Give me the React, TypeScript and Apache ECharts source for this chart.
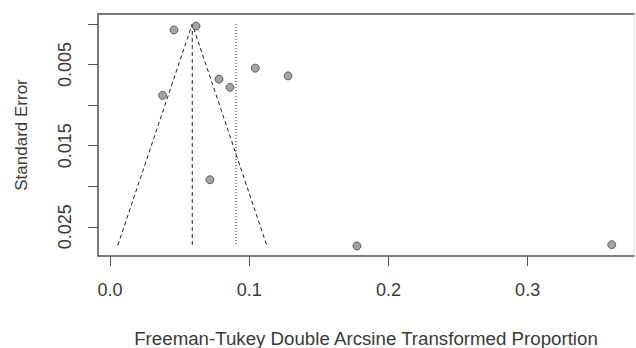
import React, { useEffect, useRef } from "react";
import * as echarts from "echarts";

// Study estimates (Freeman-Tukey transformed proportion) and their standard errors
const effectValues = [0.046, 0.0618, 0.0378, 0.0783, 0.0862, 0.1044, 0.1279, 0.0718, 0.1774, 0.3604];
const seValues = [0.00074, 0.00025, 0.0088, 0.0068, 0.0078, 0.00545, 0.0064, 0.0192, 0.02736, 0.0272];
const pooledEstimate = 0.0591; // dashed vertical line / funnel apex
const otherEstimate = 0.0905; // dotted vertical line
const funnelMaxSE = 0.02727;
const zCrit = 1.96;

const xTickValues = [0, 0.1, 0.2, 0.3];
const xTickLabels = ["0.0", "0.1", "0.2", "0.3"];
const yTickValues = [0, 0.005, 0.01, 0.015, 0.02, 0.025];
const yLabelValues = [0.005, 0.015, 0.025];

const FONT = "'Liberation Sans', Arial, sans-serif";
const TEXT = "#3a3a3a";

export default function App() {
  const ref = useRef<HTMLDivElement>(null);
  useEffect(() => {
    if (!ref.current) return;
    const chart = echarts.init(ref.current, null, { renderer: "svg" });
    const points = effectValues.map((x, i) => [x, seValues[i]]);
    const funnel = [
      [pooledEstimate - zCrit * funnelMaxSE, funnelMaxSE],
      [pooledEstimate, 0],
      [pooledEstimate + zCrit * funnelMaxSE, funnelMaxSE],
    ];
    chart.setOption({
      animation: false,
      backgroundColor: "#ffffff",
      textStyle: { fontFamily: FONT },
      grid: {
        left: 98,
        right: 2,
        top: 14,
        bottom: 92,
        show: true,
        borderColor: "#dcdcdc",
        borderWidth: 1,
        containLabel: false,
        outerBoundsMode: "none",
      },
      xAxis: [
        {
          type: "value",
          min: -0.0086,
          max: 0.3764,
          position: "bottom",
          splitLine: { show: false },
          axisLine: { show: true, onZero: false, lineStyle: { color: "#555", width: 1.5 } },
          axisTick: {
            show: true,
            length: 10,
            customValues: xTickValues,
            lineStyle: { color: "#555" },
          },
          axisLabel: {
            customValues: xTickValues,
            formatter: (v: number) => xTickLabels[xTickValues.findIndex((t) => Math.abs(t - v) < 1e-9)] ?? "",
            margin: 25,
            fontSize: 18,
            color: TEXT,
            fontFamily: FONT,
          },
          name: "Freeman-Tukey Double Arcsine Transformed Proportion",
          nameLocation: "middle",
          nameGap: 73,
          nameTextStyle: { fontSize: 18.7, color: TEXT, fontFamily: FONT },
        },
        {
          type: "value",
          min: -0.0086,
          max: 0.3764,
          position: "top",
          splitLine: { show: false },
          axisLine: { show: true, onZero: false, lineStyle: { color: "#555", width: 1.5 } },
          axisTick: { show: false },
          axisLabel: { show: false },
        },
      ],
      yAxis: {
        type: "value",
        inverse: true,
        min: -0.00123,
        max: 0.0286,
        splitLine: { show: false },
        axisLine: { show: true, onZero: false, lineStyle: { color: "#555", width: 1.5 } },
        axisTick: {
          show: true,
          length: 10,
          customValues: yTickValues,
          lineStyle: { color: "#555" },
        },
        axisLabel: {
          customValues: yLabelValues,
          formatter: (v: number) => v.toFixed(3),
          rotate: 90,
          align: "center",
          verticalAlign: "bottom",
          margin: 24,
          fontSize: 18,
          color: TEXT,
          fontFamily: FONT,
        },
        name: "Standard Error",
        nameLocation: "middle",
        nameGap: 68,
        nameRotate: 90,
        nameTextStyle: { fontSize: 17, color: TEXT, fontFamily: FONT },
      },
      series: [
        {
          type: "line",
          data: funnel,
          symbol: "none",
          lineStyle: { color: "#222", width: 1, type: [4, 3] },
          z: 2,
        },
        {
          type: "line",
          data: [
            [pooledEstimate, 0],
            [pooledEstimate, funnelMaxSE],
          ],
          symbol: "none",
          lineStyle: { color: "#222", width: 1, type: [4, 3] },
          z: 2,
        },
        {
          type: "line",
          data: [
            [otherEstimate, 0],
            [otherEstimate, funnelMaxSE],
          ],
          symbol: "none",
          lineStyle: { color: "#222", width: 1, type: [1, 2] },
          z: 2,
        },
        {
          type: "scatter",
          data: points,
          symbol: "circle",
          symbolSize: 8,
          itemStyle: { color: "#8c8c8c", borderColor: "#4a4a4a", borderWidth: 1 },
          z: 3,
        },
      ],
    });
    return () => chart.dispose();
  }, []);
  return (
    <div
      ref={ref}
      style={{ position: "fixed", left: 0, top: 0, width: 636, height: 348, background: "#fff" }}
    />
  );
}
